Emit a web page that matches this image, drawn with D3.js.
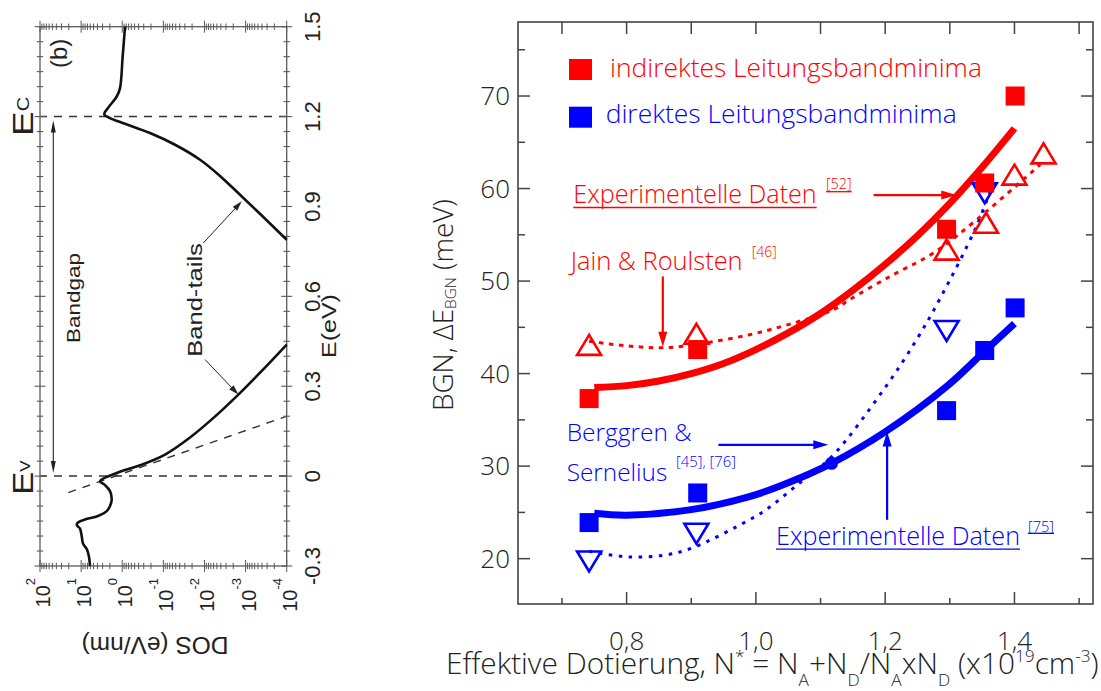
<!DOCTYPE html>
<html><head><meta charset="utf-8">
<script src="https://cdn.jsdelivr.net/npm/d3@7"></script>
<style>body{margin:0;background:#fff}svg{display:block}</style>
</head><body>
<svg id="chart" width="1101" height="691"></svg>
<script>
// ---------------- DATA: right panel ----------------
const xTicks = [0.8, 1.0, 1.2, 1.4];
const xTickLabels = ["0,8", "1,0", "1,2", "1,4"];
const xMinorTicks = [0.7, 0.9, 1.1, 1.3, 1.5];
const yTicks = [20, 30, 40, 50, 60, 70];
const yTickLabels = ["20", "30", "40", "50", "60", "70"];
const yMinorTicks = [25, 35, 45, 55, 65, 75];

// indirect conduction band minima, experimental [52] (red squares)
const indirektX = [0.742, 0.910, 1.295, 1.354, 1.401];
const indirektY = [37.3, 42.6, 55.6, 60.6, 70.0];
// Jain & Roulsten [46] (red open up-triangles)
const jainX = [0.742, 0.908, 1.295, 1.356, 1.400, 1.445];
const jainY = [43.1, 44.3, 53.4, 56.3, 61.5, 63.8];
// direct conduction band minima, experimental [75] (blue squares)
const direktX = [0.742, 0.910, 1.295, 1.354, 1.401];
const direktY = [23.9, 27.1, 36.0, 42.5, 47.1];
// Berggren & Sernelius [45],[76] (blue open down-triangles)
const berggrenX = [0.742, 0.908, 1.295, 1.354];
const berggrenY = [19.7, 22.7, 44.6, 59.5];
const circleX = [1.117];
const circleY = [30.3];

// fit curves
const redFitX = [0.75, 0.80, 0.85, 0.90, 0.95, 1.00, 1.05, 1.10, 1.15, 1.20, 1.25, 1.30, 1.35, 1.40];
const redFitY = [38.5, 38.7, 39.2, 40.0, 41.1, 42.6, 44.4, 46.5, 49.0, 51.8, 54.9, 58.4, 62.3, 66.5];
const redDotX = [0.742, 0.80, 0.86, 0.92, 0.99, 1.05, 1.12, 1.145, 1.21, 1.274, 1.341, 1.44];
const redDotY = [43.5, 43.0, 42.8, 43.3, 44.2, 45.3, 46.9, 48.0, 50.6, 53.0, 56.6, 62.6];
const blueFitX = [0.75, 0.80, 0.90, 0.99, 1.05, 1.117, 1.20, 1.295, 1.355, 1.40];
const blueFitY = [24.9, 24.7, 25.3, 26.7, 28.2, 30.3, 33.7, 38.6, 42.5, 45.4];
const blueDotX = [0.742, 0.80, 0.86, 0.903, 0.99, 1.016, 1.068, 1.117, 1.197, 1.248, 1.284, 1.341, 1.367];
const blueDotY = [20.8, 20.2, 20.4, 21.2, 24.2, 25.3, 28.2, 31.0, 38.2, 43.6, 48.0, 55.9, 60.6];

// ---------------- DATA: left panel (DOS vs E) ----------------
const eTicks = [-0.3, 0, 0.3, 0.6, 0.9, 1.2, 1.5];
const eTickLabels = ["-0.3", "0", "0.3", "0.6", "0.9", "1.2", "1.5"];
const dosDecades = [1e2, 1e1, 1e0, 1e-1, 1e-2, 1e-3, 1e-4];
const dosDecadeExps = ["2", "1", "0", "-1", "-2", "-3", "-4"];
const bandEdges = [1.2, 0.0];

const dosUpperE = [1.50, 1.40, 1.295, 1.267, 1.229, 1.208, 1.195, 1.176, 1.145, 1.106, 1.056, 1.002, 0.939, 0.869, 0.789];
const dosUpperV = [0.855, 0.977, 1.132, 1.361, 2.213, 2.729, 1.982, 0.855, 0.211, 0.0520, 0.01282, 0.00419, 0.001365, 0.000398, 0.0001];
const dosLowerE = [0.439, 0.352, 0.272, 0.196, 0.129, 0.072, 0.036, 0.012, -0.017, -0.030, -0.050, -0.078, -0.100, -0.117, -0.133, -0.145, -0.155, -0.163, -0.175, -0.200, -0.225, -0.245, -0.270, -0.300];
const dosLowerV = [0.0001, 0.000398, 0.0015, 0.00585, 0.02244, 0.0910, 0.369, 1.268, 3.467, 2.624, 1.982, 1.803, 1.982, 2.388, 3.882, 8.035, 11.91, 12.79, 10.64, 9.683, 8.995, 7.194, 6.427, 6.081];
const tailLineE = [-0.055, 0.200];
const tailLineV = [20.5, 0.0001];

// ---------------- DRAWING ----------------
const svg = d3.select('#chart');
svg.append('rect').attr('width', 1101).attr('height', 691).attr('fill', '#fff');
const FONT_R = "'Open Sans','Noto Sans',sans-serif";
const FONT_L = "'Liberation Sans',Arial,Helvetica,sans-serif";
const RED = '#ff0000', BLUE = '#0000ff';

function arrow(g, x1, y1, x2, y2, color, w, hl, hw) {
  const dx = x2 - x1, dy = y2 - y1, len = Math.hypot(dx, dy), ux = dx / len, uy = dy / len;
  const bx = x2 - ux * hl, by = y2 - uy * hl;
  g.append('line').attr('x1', x1).attr('y1', y1).attr('x2', bx + ux).attr('y2', by + uy)
    .attr('stroke', color).attr('stroke-width', w);
  g.append('polygon').attr('points', [[x2, y2], [bx - uy * hw / 2, by + ux * hw / 2], [bx + uy * hw / 2, by - ux * hw / 2]]
    .map(p => p.join(',')).join(' ')).attr('fill', color);
}
function fit(t, target) {
  const cur = t.node().getComputedTextLength();
  const fs = parseFloat(t.attr('font-size'));
  if (cur > 0) t.attr('font-size', (fs * target / cur).toFixed(2));
  return t;
}

// ===== LEFT PANEL =====
const Lg = svg.append('g');
const xD = d3.scaleLog().domain([100, 1e-4]).range([40, 286.7]);
const yE = d3.scaleLinear().domain([-0.3, 1.5]).range([566, 26.7]);
const [lx0, lx1] = xD.range(), [ly0, ly1] = yE.range();
const frameC = '#5a5a5a';

// dashed band edges
Lg.selectAll('.edge').data(bandEdges).join('line')
  .attr('x1', lx0).attr('x2', lx1).attr('y1', d => yE(d)).attr('y2', d => yE(d))
  .attr('stroke', '#333').attr('stroke-width', 1.5).attr('stroke-dasharray', '8,7').attr('stroke-dashoffset', -14);
// dashed tail extrapolation
Lg.append('line').attr('x1', xD(tailLineV[0])).attr('y1', yE(tailLineE[0]))
  .attr('x2', xD(tailLineV[1])).attr('y2', yE(tailLineE[1]))
  .attr('stroke', '#333').attr('stroke-width', 1.4).attr('stroke-dasharray', '8,7');

// frame
Lg.append('rect').attr('x', lx0).attr('y', ly1).attr('width', lx1 - lx0).attr('height', ly0 - ly1)
  .attr('fill', 'none').attr('stroke', frameC).attr('stroke-width', 1.3);
// E ticks (every 0.05, major at labels)
const eMinor = d3.range(-6, 31).map(i => i * 0.05);
eMinor.forEach(v => {
  const major = Math.abs(Math.round(v * 100) % 30) === 0;
  const h = major ? 5.5 : 3.2;
  [lx0, lx1].forEach(xx => Lg.append('line').attr('x1', xx - h).attr('x2', xx + h)
    .attr('y1', yE(v)).attr('y2', yE(v)).attr('stroke', frameC).attr('stroke-width', 1.1));
});
// DOS log ticks
const dosTicks = [];
for (let e = -4; e <= 1; e++) for (let k = 1; k <= 9; k++) dosTicks.push({v: k * Math.pow(10, e), major: k === 1});
dosTicks.push({v: 100, major: true});
dosTicks.forEach(t => {
  const h = t.major ? 6 : 3.2;
  [ly0, ly1].forEach(yy => Lg.append('line').attr('x1', xD(t.v)).attr('x2', xD(t.v))
    .attr('y1', yy - h).attr('y2', yy + h).attr('stroke', frameC).attr('stroke-width', 1));
});

// DOS curve
const dosLine = d3.line().x(d => xD(d[0])).y(d => yE(d[1])).curve(d3.curveCatmullRom.alpha(0.5));
Lg.append('path').attr('d', dosLine(dosUpperV.map((v, i) => [v, dosUpperE[i]])))
  .attr('fill', 'none').attr('stroke', '#111').attr('stroke-width', 2.6).attr('stroke-linejoin', 'round');
Lg.append('path').attr('d', dosLine(dosLowerV.map((v, i) => [v, dosLowerE[i]])))
  .attr('fill', 'none').attr('stroke', '#111').attr('stroke-width', 2.6).attr('stroke-linejoin', 'round');

// bandgap double arrow
const bgX = 53.3;
arrow(Lg, bgX, (yE(1.2) + yE(0)) / 2, bgX, yE(1.2) + 4, '#222', 1.1, 12, 5);
arrow(Lg, bgX, (yE(1.2) + yE(0)) / 2, bgX, yE(0) - 3, '#222', 1.1, 12, 5);
// band-tail arrows
arrow(Lg, xD(0.01067), yE(0.778), xD(0.00124), yE(0.917), '#222', 1, 10, 6);
arrow(Lg, xD(0.00968), yE(0.389), xD(0.0015), yE(0.272), '#222', 1, 10, 6);

// E tick labels (rotated)
eTicks.forEach((v, i) => {
  Lg.append('text').attr('transform', `translate(320,${yE(v)}) rotate(-90)`)
    .attr('text-anchor', 'middle').attr('font-family', FONT_L).attr('font-size', 22).attr('fill', '#222')
    .text(eTickLabels[i]);
});
// DOS decade labels
dosDecades.forEach((v, i) => {
  const t = Lg.append('text').attr('transform', `translate(${xD(v) + 10},578) rotate(-90)`)
    .attr('text-anchor', 'end').attr('font-family', FONT_L).attr('font-size', 20).attr('fill', '#222');
  t.append('tspan').text('10');
  t.append('tspan').attr('font-size', 13).attr('dy', -15).text(dosDecadeExps[i]);
});
// axis titles
Lg.append('text').attr('transform', 'translate(155,636.7) rotate(180)').attr('text-anchor', 'middle')
  .attr('font-family', FONT_L).attr('font-size', 24.5).attr('fill', '#222').text('DOS (eV/nm)');
Lg.append('text').attr('transform', 'translate(336,326) scale(0.8,1) rotate(-90)').attr('text-anchor', 'middle')
  .attr('font-family', FONT_L).attr('font-size', 25).attr('fill', '#222').text('E(eV)');
Lg.append('text').attr('transform', 'translate(80,298) scale(0.82,1) rotate(-90)').attr('text-anchor', 'middle')
  .attr('font-family', FONT_L).attr('font-size', 22.5).attr('fill', '#222').text('Bandgap');
Lg.append('text').attr('transform', 'translate(201.7,300) scale(0.82,1) rotate(-90)').attr('text-anchor', 'middle')
  .attr('font-family', FONT_L).attr('font-size', 25.6).attr('fill', '#222').text('Band-tails');
Lg.append('text').attr('transform', 'translate(66.7,53.3) rotate(-90)').attr('text-anchor', 'middle')
  .attr('font-family', FONT_L).attr('font-size', 24).attr('fill', '#222').text('(b)');
const ec = Lg.append('text').attr('transform', 'translate(33.3,136) scale(0.82,1) rotate(-90)')
  .attr('font-family', FONT_L).attr('font-size', 37).attr('fill', '#222');
ec.append('tspan').text('E'); ec.append('tspan').attr('font-size', 20).attr('dy', -5).text('C');
const ev = Lg.append('text').attr('transform', 'translate(33.3,495) scale(0.82,1) rotate(-90)')
  .attr('font-family', FONT_L).attr('font-size', 35).attr('fill', '#222');
ev.append('tspan').text('E'); ev.append('tspan').attr('font-size', 17).attr('dy', -3.5).text('V');

// ===== RIGHT PANEL =====
const Rg = svg.append('g');
const x = d3.scaleLinear().domain([0.632, 1.5215]).range([518, 1093]);
const y = d3.scaleLinear().domain([15.1, 78]).range([604, 22]);
const [X0, X1] = x.range(), [Yb, Yt] = y.range();
const axC = '#444';
Rg.append('rect').attr('x', X0).attr('y', Yt).attr('width', X1 - X0).attr('height', Yb - Yt)
  .attr('fill', 'none').attr('stroke', axC).attr('stroke-width', 1.6);
// ticks (inward)
xTicks.concat(xMinorTicks).forEach(v => {
  Rg.append('line').attr('x1', x(v)).attr('x2', x(v)).attr('y1', Yt).attr('y2', Yt + 12).attr('stroke', axC).attr('stroke-width', 1.5);
});
xTicks.forEach(v => Rg.append('line').attr('x1', x(v)).attr('x2', x(v)).attr('y1', Yb).attr('y2', Yb - 12).attr('stroke', axC).attr('stroke-width', 1.5));
xMinorTicks.forEach(v => Rg.append('line').attr('x1', x(v)).attr('x2', x(v)).attr('y1', Yb).attr('y2', Yb - 6).attr('stroke', axC).attr('stroke-width', 1.5));
yTicks.forEach(v => {
  Rg.append('line').attr('x1', X0).attr('x2', X0 + 12).attr('y1', y(v)).attr('y2', y(v)).attr('stroke', axC).attr('stroke-width', 1.5);
  Rg.append('line').attr('x1', X1).attr('x2', X1 - 12).attr('y1', y(v)).attr('y2', y(v)).attr('stroke', axC).attr('stroke-width', 1.5);
});
yMinorTicks.forEach(v => {
  Rg.append('line').attr('x1', X0).attr('x2', X0 + 7).attr('y1', y(v)).attr('y2', y(v)).attr('stroke', axC).attr('stroke-width', 1.5);
  Rg.append('line').attr('x1', X1).attr('x2', X1 - 7).attr('y1', y(v)).attr('y2', y(v)).attr('stroke', axC).attr('stroke-width', 1.5);
});
// tick labels
yTicks.forEach((v, i) => Rg.append('text').attr('x', 510).attr('y', y(v)).attr('dy', '0.36em')
  .attr('text-anchor', 'end').attr('font-family', FONT_R).attr('font-weight', 300).attr('font-size', 26)
  .attr('fill', '#222').text(yTickLabels[i]));
xTicks.forEach((v, i) => Rg.append('text').attr('x', x(v)).attr('y', 650)
  .attr('text-anchor', 'middle').attr('font-family', FONT_R).attr('font-weight', 300).attr('font-size', 26)
  .attr('fill', '#222').text(xTickLabels[i]));

// axis titles
const yl = Rg.append('text').attr('transform', 'translate(453,305) rotate(-90)').attr('text-anchor', 'middle')
  .attr('font-family', FONT_R).attr('font-weight', 300).attr('font-size', 30).attr('fill', '#222');
yl.append('tspan').text('BGN, ΔE');
yl.append('tspan').attr('font-size', '55%').attr('dy', '0.2em').text('BGN');
yl.append('tspan').attr('dy', '-0.11em').text(' (meV)');
fit(yl, 212);

const xl = Rg.append('text').attr('x', 446).attr('y', 674)
  .attr('font-family', FONT_R).attr('font-weight', 300).attr('font-size', 26).attr('fill', '#222');
const parts = [['Effektive Dotierung, N', 0], ['*', 1], [' = N', 0], ['A', -1], ['+N', 0], ['D', -1], ['/N', 0], ['A', -1],
  ['xN', 0], ['D', -1], [' (x10', 0], ['19', 1], ['cm', 0], ['-3', 1], [')', 0]];
let prev = 0;
const SUP = -0.4, SUB = 0.4, SCALE = 0.58;
parts.forEach(([s, k]) => {
  const t = xl.append('tspan').text(s);
  const shift = k === 1 ? SUP : (k === -1 ? SUB : 0);
  if (k !== 0) t.attr('font-size', (SCALE * 100) + '%').attr('dy', ((shift - prev) / SCALE).toFixed(3) + 'em');
  else t.attr('dy', (shift - prev).toFixed(3) + 'em');
  prev = shift;
});
fit(xl, 653);

// fit lines
const line = d3.line().x(d => x(d[0])).y(d => y(d[1])).curve(d3.curveCatmullRom.alpha(0.5));
const zip = (a, b) => a.map((v, i) => [v, b[i]]);
Rg.append('path').attr('d', line(zip(redDotX, redDotY))).attr('fill', 'none').attr('stroke', RED)
  .attr('stroke-width', 3).attr('stroke-dasharray', '4.5,5.5');
Rg.append('path').attr('d', line(zip(blueDotX, blueDotY))).attr('fill', 'none').attr('stroke', BLUE)
  .attr('stroke-width', 3).attr('stroke-dasharray', '3.5,6.5');
Rg.append('path').attr('d', line(zip(redFitX, redFitY))).attr('fill', 'none').attr('stroke', RED).attr('stroke-width', 7);
Rg.append('path').attr('d', line(zip(blueFitX, blueFitY))).attr('fill', 'none').attr('stroke', BLUE).attr('stroke-width', 7);

// markers
const SQ = 19;
function squares(xs, ys, c) {
  Rg.selectAll(null).data(zip(xs, ys)).join('rect')
    .attr('x', d => x(d[0]) - SQ / 2).attr('y', d => y(d[1]) - SQ / 2).attr('width', SQ).attr('height', SQ).attr('fill', c);
}
function triangles(xs, ys, c, up) {
  const w = 24, h = 20;
  const p = up ? `M0,${-h / 2}L${w / 2},${h / 2}L${-w / 2},${h / 2}Z` : `M0,${h / 2}L${w / 2},${-h / 2}L${-w / 2},${-h / 2}Z`;
  Rg.selectAll(null).data(zip(xs, ys)).join('path')
    .attr('transform', d => `translate(${x(d[0])},${y(d[1])})`).attr('d', p)
    .attr('fill', 'none').attr('stroke', c).attr('stroke-width', 2.6).attr('stroke-linejoin', 'miter');
}
triangles(berggrenX, berggrenY, BLUE, false);
squares(direktX, direktY, BLUE);
squares(indirektX, indirektY, RED);
triangles(jainX, jainY, RED, true);
Rg.selectAll(null).data(zip(circleX, circleY)).join('circle')
  .attr('cx', d => x(d[0])).attr('cy', d => y(d[1])).attr('r', 6.5).attr('fill', BLUE);

// legend
Rg.append('rect').attr('x', 569).attr('y', 59).attr('width', 23).attr('height', 21).attr('fill', RED);
Rg.append('rect').attr('x', 569).attr('y', 106.7).attr('width', 23).attr('height', 21).attr('fill', BLUE);
function label(s, px, py, size, color, w, underline, ulOff) {
  const t = Rg.append('text').attr('x', px).attr('y', py).attr('font-family', FONT_R).attr('font-weight', 300)
    .attr('font-size', size).attr('fill', color).text(s);
  fit(t, w);
  if (underline) {
    const bb = t.node().getBBox();
    Rg.append('line').attr('x1', px).attr('x2', px + bb.width).attr('y1', py + ulOff).attr('y2', py + ulOff)
      .attr('stroke', color).attr('stroke-width', 1.3);
  }
  return t;
}
label('indirektes Leitungsbandminima', 610, 76.7, 24, RED, 372);
label('direktes Leitungsbandminima', 605.7, 123.3, 24, BLUE, 351);
label('Experimentelle Daten', 573.3, 203.3, 22, RED, 243.4, true, 4.2);
label('[52]', 826, 189.3, 14, RED, 25.7, true, 2.4);
label('Jain & Roulsten', 570.7, 270, 22, RED, 172);
label('[46]', 751.7, 256.7, 14, RED, 25);
label('Berggren &', 566.7, 440.7, 22, BLUE, 125);
label('Sernelius', 566.7, 481, 22, BLUE, 100.6);
label('[45], [76]', 676, 467.3, 14, BLUE, 60);
label('Experimentelle Daten', 776, 545, 22, BLUE, 244, true, 4.2);
label('[75]', 1028, 531.7, 14, BLUE, 26, true, 1.6);

// annotation arrows (data coordinates)
const ann = [
  {a: [1.182, 59.3], b: [1.310, 59.3], c: RED},
  {a: [0.856, 50.5], b: [0.856, 42.9], c: RED},
  {a: [0.942, 32.3], b: [1.112, 32.3], c: BLUE},
  {a: [1.203, 24.2], b: [1.203, 33.75], c: BLUE}
];
ann.forEach(d => arrow(Rg, x(d.a[0]), y(d.a[1]), x(d.b[0]), y(d.b[1]), d.c, 2.2, 15, 9));
</script>
</body></html>
